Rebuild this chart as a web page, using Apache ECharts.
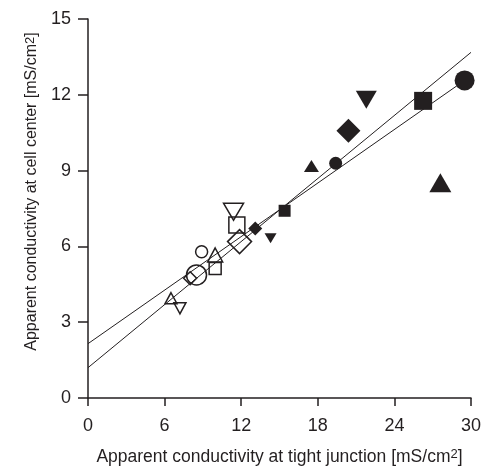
<!DOCTYPE html>
<html lang="en">
<head>
    <meta charset="UTF-8">
    <title>Apparent conductivity</title>
    <script src="https://cdn.jsdelivr.net/npm/echarts@6/dist/echarts.min.js"></script>
    <style>
        html, body { margin: 0; padding: 0; background: #fff; }
        #chart { width: 484px; height: 471px; }
    </style>
</head>
<body>
    <div id="chart"></div>
    <script>
        // marker shapes, same order in every group below
        const shapes = ['circle', 'square', 'triangle', 'downTriangle', 'diamond'];

        // filled, large markers
        const filledLargeX = [29.5, 26.25, 27.6, 21.8, 20.4];
        const filledLargeY = [12.57, 11.76, 8.52, 11.8, 10.58];
        // filled, small markers
        const filledSmallX = [19.4, 15.4, 17.5, 14.3, 13.1];
        const filledSmallY = [9.29, 7.41, 9.18, 6.32, 6.71];
        // open, large markers
        const hollowLargeX = [8.5, 11.66, 9.96, 11.4, 11.87];
        const hollowLargeY = [4.87, 6.85, 5.66, 7.37, 6.19];
        // open, small markers
        const hollowSmallX = [8.9, 9.96, 6.5, 7.2, 8.0];
        const hollowSmallY = [5.79, 5.13, 3.95, 3.55, 4.74];

        // regression lines (end points)
        const fitSteepX = [0, 30];
        const fitSteepY = [1.2, 13.68];
        const fitFlatX = [0, 29.5];
        const fitFlatY = [2.15, 12.57];

        const xTicks = [0, 6, 12, 18, 24, 30];
        const yTicks = [0, 3, 6, 9, 12, 15];

        const ink = '#231f20';
        const font = 'Liberation Sans, Arial, Helvetica, sans-serif';

        const sizeLarge = { circle: 20, square: 18, triangle: [22, 19], downTriangle: [21, 18], diamond: 24 };
        const sizeSmall = { circle: 13, square: 12, triangle: [15, 12], downTriangle: [12, 10], diamond: 14 };
        const sizeHollowLarge = { circle: 20, square: 16, triangle: [15, 14], downTriangle: [20, 17], diamond: 24 };
        const sizeHollowSmall = { circle: 12, square: 12, triangle: [12, 11], downTriangle: [12, 11], diamond: 13 };

        function markers(xs, ys, sizes) {
            return xs.map((x, i) => {
                const s = shapes[i];
                return {
                    value: [x, ys[i]],
                    symbol: s === 'downTriangle' ? 'triangle' : s,
                    symbolRotate: s === 'downTriangle' ? 180 : 0,
                    symbolSize: sizes[s]
                };
            });
        }

        function pairs(xs, ys) {
            return xs.map((x, i) => [x, ys[i]]);
        }

        const filledStyle = { color: ink, opacity: 1 };
        const hollowStyle = { color: 'rgba(0,0,0,0)', borderColor: ink, borderWidth: 1.5, opacity: 1 };
        const supStyle = { fontSize: 13, verticalAlign: 'top', lineHeight: 10, fontFamily: font, color: ink };

        const chart = echarts.init(document.getElementById('chart'));
        chart.setOption({
            animation: false,
            grid: { left: 88, right: 13, top: 19, bottom: 73, outerBoundsMode: 'none', containLabel: false },
            xAxis: {
                type: 'value', min: 0, max: 30, interval: 6,
                name: 'Apparent conductivity at tight junction [mS/cm{sup|2}]',
                nameLocation: 'middle', nameGap: 50,
                nameTextStyle: { color: ink, fontFamily: font, fontSize: 17.5, rich: { sup: supStyle } },
                axisLine: { lineStyle: { color: ink, width: 1.5 } },
                axisTick: { length: 8, lineStyle: { color: ink, width: 1.5 } },
                axisLabel: { color: ink, fontFamily: font, fontSize: 18, margin: 19,
                    formatter: v => xTicks.includes(v) ? String(v) : '' },
                splitLine: { show: false }
            },
            yAxis: {
                type: 'value', min: 0, max: 15, interval: 3,
                name: 'Apparent conductivity at cell center [mS/cm{sup|2}]',
                nameLocation: 'middle', nameGap: 47,
                nameTextStyle: { color: ink, fontFamily: font, fontSize: 16, padding: [0, 0, 0, 34], rich: { sup: supStyle } },
                axisLine: { lineStyle: { color: ink, width: 1.5 } },
                axisTick: { length: 10, lineStyle: { color: ink, width: 1.5 } },
                axisLabel: { color: ink, fontFamily: font, fontSize: 18, margin: 17,
                    formatter: v => yTicks.includes(v) ? String(v) : '' },
                splitLine: { show: false }
            },
            series: [
                { type: 'line', data: pairs(fitSteepX, fitSteepY), symbol: 'none',
                  lineStyle: { color: ink, width: 1 }, z: 3 },
                { type: 'line', data: pairs(fitFlatX, fitFlatY), symbol: 'none',
                  lineStyle: { color: ink, width: 1 }, z: 3 },
                { type: 'scatter', data: markers(filledLargeX, filledLargeY, sizeLarge), itemStyle: filledStyle, z: 4 },
                { type: 'scatter', data: markers(filledSmallX, filledSmallY, sizeSmall), itemStyle: filledStyle, z: 4 },
                { type: 'scatter', data: markers(hollowLargeX, hollowLargeY, sizeHollowLarge), itemStyle: hollowStyle, z: 4 },
                { type: 'scatter', data: markers(hollowSmallX, hollowSmallY, sizeHollowSmall), itemStyle: hollowStyle, z: 4 }
            ]
        });
    </script>
</body>
</html>
